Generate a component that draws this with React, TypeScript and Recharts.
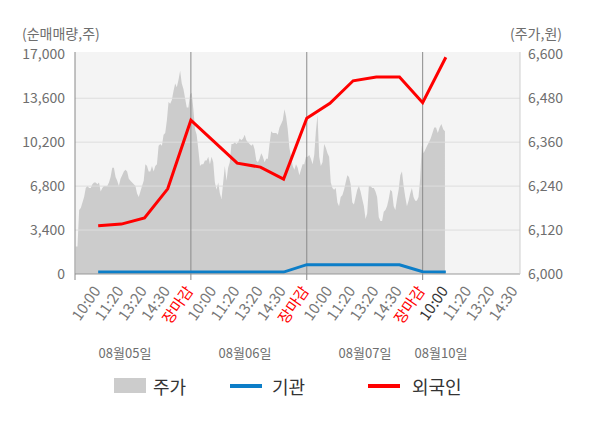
import React from 'react';
import { ComposedChart, Area, Line, XAxis, YAxis, ReferenceLine, CartesianGrid } from 'recharts';

// 주가 (intraday price) per trading day, sampled in order across the session
const day1Price = [
  6075, 6075, 6175, 6180, 6195, 6210, 6235, 6240, 6235, 6235,
  6245, 6250, 6250, 6245, 6250, 6225, 6235, 6240, 6240, 6240,
  6250, 6265, 6290, 6290, 6265, 6255, 6240, 6260, 6270, 6280,
  6285, 6280, 6260, 6255, 6250, 6245, 6240, 6220, 6210, 6225,
  6240, 6255, 6300, 6295, 6280, 6280, 6295, 6280, 6295, 6300,
  6350, 6355, 6350, 6380, 6385, 6420, 6470, 6465, 6475, 6500,
  6520, 6510, 6530, 6555, 6520, 6505, 6480, 6455, 6455, 6490,
];
const day2Price = [
  6495, 6450, 6395, 6380, 6340, 6295, 6300, 6300, 6310, 6310,
  6320, 6300, 6320, 6305, 6250, 6230, 6250, 6220, 6205, 6250,
  6295, 6255, 6290, 6305, 6355, 6355, 6360, 6355, 6360, 6370,
  6365, 6370, 6380, 6365, 6360, 6355, 6350, 6355, 6340, 6310,
  6305, 6315, 6330, 6320, 6305, 6315, 6315, 6355, 6390, 6385,
  6385, 6385, 6380, 6400, 6410, 6420, 6450, 6430, 6395, 6345,
  6320, 6295, 6285, 6300, 6290, 6270, 6285, 6300, 6300, 6320,
];
const day3Price = [
  6320, 6325, 6315, 6300, 6325, 6390, 6435, 6320, 6295, 6305,
  6355, 6345, 6330, 6320, 6250, 6235, 6230, 6235, 6195, 6185,
  6210, 6215, 6230, 6250, 6270, 6265, 6245, 6195, 6190, 6210,
  6230, 6240, 6225, 6205, 6185, 6150, 6165, 6240, 6240, 6235,
  6235, 6225, 6210, 6155, 6145, 6145, 6170, 6175, 6185, 6205,
  6230, 6225, 6185, 6175, 6205, 6230, 6270, 6280, 6240, 6210,
  6185, 6200, 6220, 6235, 6210, 6200, 6200, 6210, 6260, 6350,
];
const day4Price = [6330, 6340, 6350, 6360, 6370, 6385, 6400, 6400, 6385, 6400, 6410, 6395, 6390];

// 외국인 / 기관 net volume at each time label (10:00 ... 장마감), 16 points
const foreignNet = [3730, 3860, 4330, 6590, 11900, 10250, 8580, 8270, 7340, 12050, 13210, 14950, 15250, 15250, 13260, 16770];
const instNet = [150, 150, 150, 150, 150, 150, 150, 150, 150, 720, 720, 720, 720, 720, 170, 150];

const timeLabels = [
  '10:00', '11:20', '13:20', '14:30', '장마감',
  '10:00', '11:20', '13:20', '14:30', '장마감',
  '10:00', '11:20', '13:20', '14:30', '장마감',
  '10:00', '11:20', '13:20', '14:30',
];
const dateLabels = ['08월05일', '08월06일', '08월07일', '08월10일'];
const leftTicks = [0, 3400, 6800, 10200, 13600, 17000];
const rightTicks = [6000, 6120, 6240, 6360, 6480, 6600];
const latestLabelIndex = 15;

const dayPrices = [day1Price, day2Price, day3Price, day4Price];
const SLOTS_PER_DAY = 5;

type Row = { slot: number; price?: number; foreign?: number; inst?: number };
const rows: Row[] = [];
dayPrices.forEach((arr, d) => {
  const span = d < 3 ? SLOTS_PER_DAY : 1;
  arr.forEach((p, i) => rows.push({ slot: d * SLOTS_PER_DAY + ((i + 0.5) / arr.length) * span, price: p }));
});
foreignNet.forEach((f, k) => rows.push({ slot: k + 1, foreign: f, inst: instNet[k] }));
rows.sort((a, b) => a.slot - b.slot);

const xTicks = [0, ...timeLabels.map((_, i) => i + 1)];
const dayBoundaries = [5, 10, 15];

const FONT = '"Noto Sans CJK KR", "Noto Sans", sans-serif';

const renderXTick = (props: any) => {
  const { x, y, payload } = props;
  const v = Math.round(payload.value as number);
  const label = v >= 1 ? timeLabels[v - 1] : '';
  const color = label === '장마감' ? '#ff0000' : v - 1 === latestLabelIndex ? '#333333' : '#777777';
  const ax = x + 3;
  const ay = y + 17;
  return (
    <g key={`xt-${v}`}>
      {v % 5 === 0 && <line x1={x} x2={x} y1={y} y2={y + 6} stroke="#888" />}
      {label && (
        <text x={ax} y={ay} transform={`rotate(-55, ${ax}, ${ay})`} textAnchor="end" fontSize={15} fill={color} fontFamily={FONT}>
          {label}
        </text>
      )}
    </g>
  );
};

const fmt = (v: number) => v.toLocaleString('en-US');

const datePos = [125, 245, 365, 441];

export default function App() {
  return (
    <div style={{ position: 'absolute', left: 0, top: 0, width: 600, height: 428, background: '#fff', fontFamily: FONT }}>
      <ComposedChart
        width={600}
        height={428}
        data={rows}
        margin={{ top: 52, right: 0, bottom: 94, left: 0 }}
        style={{ fontFamily: FONT }}
      >
        <CartesianGrid horizontal={false} vertical={false} fill="#f4f4f4" />
        <XAxis
          dataKey="slot"
          type="number"
          domain={[0, 19.2]}
          ticks={xTicks}
          interval={0}
          allowDataOverflow
          height={60}
          tickSize={0}
          tickMargin={0}
          tickLine={false}
          axisLine={{ stroke: '#999' }}
          tick={renderXTick}
        />
        <YAxis
          yAxisId="left"
          domain={[0, 17178]}
          ticks={leftTicks}
          allowDataOverflow
          width={75}
          tickLine={false}
          tickSize={0}
          tickMargin={10}
          axisLine={{ stroke: '#888' }}
          tick={{ fontSize: 14, fill: '#6e6e6e', fontFamily: FONT }}
          tickFormatter={fmt}
          interval={0}
        />
        <YAxis
          yAxisId="right"
          orientation="right"
          domain={[6000, 6606.3]}
          ticks={rightTicks}
          allowDataOverflow
          width={80}
          tickLine={false}
          tickSize={0}
          tickMargin={8}
          axisLine={{ stroke: '#cfcfcf' }}
          tick={{ fontSize: 14, fill: '#6e6e6e', fontFamily: FONT, textAnchor: 'start' }}
          tickFormatter={fmt}
          interval={0}
        />
        <Area
          yAxisId="right"
          dataKey="price"
          type="linear"
          fill="#cccccc"
          fillOpacity={1}
          stroke="none"
          connectNulls
          dot={false}
          activeDot={false}
          isAnimationActive={false}
        />
        {leftTicks.slice(1, -1).map((t) => (
          <ReferenceLine key={t} yAxisId="left" y={t} stroke="#dddddd" strokeWidth={1} />
        ))}
        {dayBoundaries.map((b) => (
          <ReferenceLine key={b} yAxisId="left" x={b} stroke="#8a8a8a" strokeWidth={1} />
        ))}
        <Line
          yAxisId="left"
          dataKey="inst"
          type="linear"
          stroke="#0d7ec8"
          strokeWidth={3}
          dot={false}
          activeDot={false}
          connectNulls
          isAnimationActive={false}
        />
        <Line
          yAxisId="left"
          dataKey="foreign"
          type="linear"
          stroke="#ff0000"
          strokeWidth={3}
          dot={false}
          activeDot={false}
          connectNulls
          isAnimationActive={false}
        />
      </ComposedChart>

      <div style={{ position: 'absolute', left: 22, top: 24, fontSize: 14, color: '#6e6e6e', lineHeight: '18px', whiteSpace: 'nowrap' }}>
        (순매매량,주)
      </div>
      <div style={{ position: 'absolute', right: 38, top: 24, fontSize: 14, color: '#6e6e6e', lineHeight: '18px', whiteSpace: 'nowrap' }}>
        (주가,원)
      </div>

      {dateLabels.map((d, i) => (
        <div
          key={d}
          style={{
            position: 'absolute',
            left: datePos[i] - 40,
            width: 80,
            top: 344,
            textAlign: 'center',
            fontSize: 13,
            color: '#6e6e6e',
            lineHeight: '18px',
            whiteSpace: 'nowrap',
          }}
        >
          {d}
        </div>
      ))}

      <div style={{ position: 'absolute', left: 114, top: 378, width: 32, height: 15, background: '#cccccc' }} />
      <div style={{ position: 'absolute', left: 153, top: 374, fontSize: 18, color: '#333', lineHeight: '24px' }}>주가</div>
      <div style={{ position: 'absolute', left: 230, top: 384, width: 32, height: 4, background: '#0d7ec8' }} />
      <div style={{ position: 'absolute', left: 272, top: 374, fontSize: 18, color: '#333', lineHeight: '24px' }}>기관</div>
      <div style={{ position: 'absolute', left: 368, top: 384, width: 32, height: 4, background: '#ff0000' }} />
      <div style={{ position: 'absolute', left: 412, top: 374, fontSize: 18, color: '#333', lineHeight: '24px' }}>외국인</div>
    </div>
  );
}
